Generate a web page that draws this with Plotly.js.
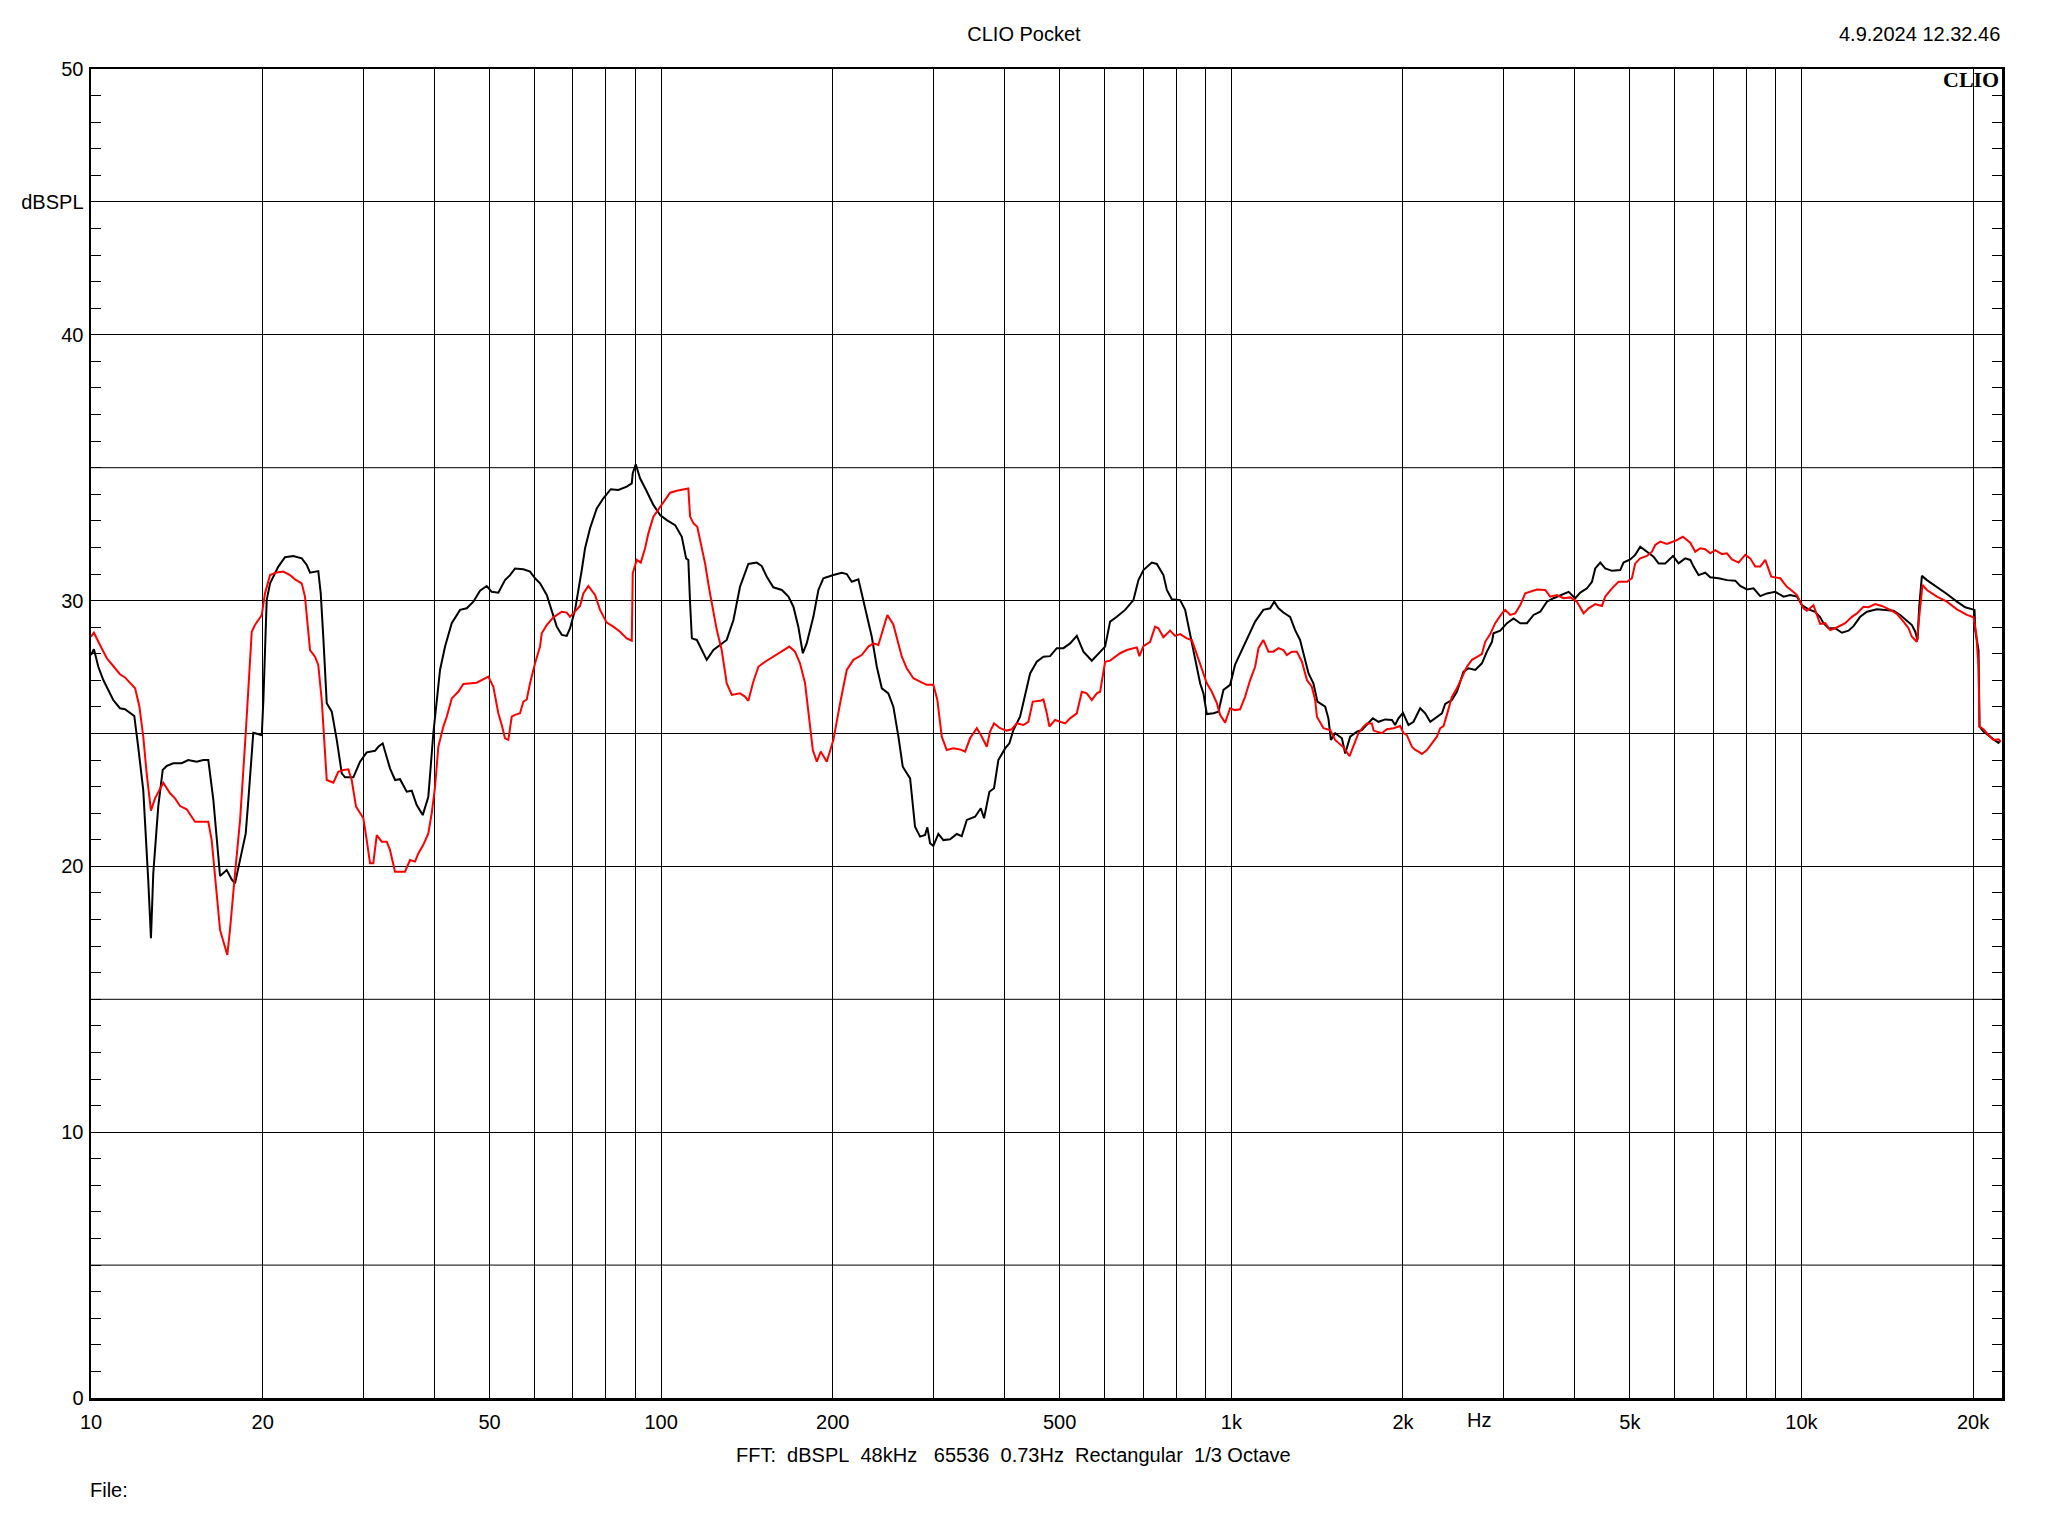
<!DOCTYPE html>
<html>
<head>
<meta charset="utf-8">
<script src="https://cdn.plot.ly/plotly-3.0.1.min.js"></script>
<style>
html, body { margin: 0; padding: 0; background: #ffffff; }
#chart { width: 2048px; height: 1536px; }
</style>
</head>
<body>
<div id="chart"></div>
<script>
// ---- Data ----
const blackFreq = [10.0,10.12,10.30,10.51,10.94,11.24,11.47,11.91,12.10,12.35,12.60,12.74,12.86,13.12,13.36,13.58,13.94,14.42,14.81,15.32,15.74,16.06,16.39,16.61,16.84,17.30,17.65,17.89,18.26,18.68,18.88,19.26,19.93,20.06,20.33,20.61,21.31,21.89,22.64,23.42,23.90,24.22,25.04,25.29,25.55,25.91,26.44,26.98,27.53,27.90,28.85,29.64,30.45,31.49,31.91,32.48,33.45,34.14,34.83,
35.79,36.52,37.26,38.18,39.05,39.85,40.94,41.78,42.92,44.39,45.60,46.84,48.12,49.44,50.45,51.81,53.23,54.32,55.43,57.32,58.89,60.09,61.32,63.00,64.29,65.60,66.94,68.30,69.22,70.63,72.57,73.54,75.04,77.10,79.18,81.58,84.13,87.03,88.81,89.16,90.25,91.83,94.09,96.90,99.56,102.3,105.8,108.7,110.6,111.6,112.4,113.2,115.5,117.8,120.2,123.5,126.9,130.3,133.9,137.5,142.2,147.1,150.1,153.2,157.3,162.8,167.2,170.6,174.0,177.2,180.0,184.9,188.7,192.5,200.5,207.4,211.6,215.9,221.8,
227.9,234.1,238.9,243.8,250.3,255.4,260.7,265.3,273.3,278.8,284.5,290.3,293.0,296.2,300.2,306.3,312.6,321.2,330.0,336.7,343.6,355.3,363.6,368.4,376.4,383.6,390.3,401.1,408.1,414.7,426.1,434.8,443.7,455.8,468.2,481.0,494.2,507.6,521.5,535.8,550.3,569.3,584.7,600.7,612.9,629.7,651.2,673.4,687.2,701.2,725.4,740.2,760.2,770.7,786.4,813.2,829.8,846.7,864.0,881.6,893.5,905.8,930.3,949.3,968.7,995.2,1015,1043,1072,1101,1138,1170,1189,1210,1234,1268,1294,1320,
1338,1366,1393,1416,1461,1480,1495,1521,1563,1584,1616,1661,1694,1729,1771,1812,1862,1913,1938,1964,2000,2045,2087,2144,2188,2233,2294,2341,2372,2437,2487,2554,2606,2678,2751,2807,2865,2883,2962,3044,3126,3212,3300,3389,3482,3577,3674,3775,3904,4011,4093,4205,4291,4348,4437,4527,4652,4810,4874,5008,5110,5215,5358,5502,5615,
5769,5951,6087,6254,6382,6467,6599,6780,6918,7154,7401,7653,7809,8023,8240,8466,8699,8995,9302,9557,9817,10017,10288,10570,10786,10930,11153,11459,11773,12091,12338,12676,13024,13561,14023,14501,14899,15308,15620,15830,15978,16088,16264,16596,17280,17992,18734,19373,20114,20171,20441,20524,20858,21283,21717,22160,22312];
const blackDb = [27.95,28.17,27.51,27.01,26.26,25.95,25.91,25.66,24.50,22.87,19.49,17.30,19.74,22.25,23.63,23.78,23.88,23.88,24.0,23.94,24.0,24.0,22.50,20.99,19.64,19.86,19.51,19.36,20.24,21.24,22.50,25.03,24.94,26.26,30.02,30.65,31.28,31.63,31.68,31.59,31.34,31.05,31.11,30.27,28.64,26.14,25.82,24.76,23.50,23.35,23.35,23.94,24.29,24.35,24.50,24.63,23.69,23.25,23.28,
22.81,22.85,22.31,21.93,22.62,25.01,27.39,28.27,29.15,29.65,29.71,29.96,30.37,30.55,30.33,30.30,30.77,30.96,31.21,31.18,31.09,30.84,30.65,30.21,29.65,29.02,28.71,28.67,28.96,29.65,31.15,31.97,32.72,33.47,33.85,34.19,34.16,34.29,34.41,34.79,35.13,34.60,34.16,33.60,33.22,33.03,32.84,32.40,31.59,31.53,29.90,28.58,28.52,28.14,27.77,28.14,28.33,28.52,29.27,30.52,31.38,31.43,31.30,30.90,30.50,30.40,30.15,29.77,29.02,28.02,28.39,29.39,30.40,30.84,30.96,31.05,31.00,30.71,30.80,
29.77,28.64,27.51,26.70,26.51,26.01,24.88,23.75,23.31,21.49,21.12,21.18,21.47,20.87,20.77,21.22,20.99,21.02,21.22,21.14,21.75,21.87,22.19,21.81,22.81,22.94,24.0,24.44,24.63,25.13,25.63,26.45,27.26,27.70,27.89,27.91,28.21,28.21,28.39,28.67,28.08,27.74,28.02,28.27,29.21,29.39,29.65,30.02,30.77,31.15,31.43,31.38,30.96,30.40,30.05,30.02,29.65,28.77,27.89,26.89,26.51,25.73,25.76,25.82,26.64,26.83,27.58,28.14,28.71,29.21,29.65,29.71,29.96,29.71,29.55,29.39,28.89,28.52,
28.02,27.26,26.89,26.20,26.01,25.57,24.76,25.01,24.82,24.25,24.88,25.07,25.13,25.32,25.57,25.44,25.53,25.51,25.32,25.57,25.78,25.32,25.44,25.95,25.76,25.44,25.63,25.76,26.11,26.26,26.57,27.33,27.45,27.39,27.64,28.08,28.45,28.77,28.87,29.15,29.33,29.15,29.15,29.46,29.58,29.96,30.09,30.21,30.33,30.09,30.30,30.46,30.71,31.21,31.43,31.21,31.12,31.15,31.43,31.55,31.72,32.03,31.84,31.65,31.40,
31.40,31.68,31.40,31.59,31.53,31.28,30.96,31.05,30.88,30.84,30.77,30.75,30.55,30.42,30.46,30.17,30.27,30.33,30.15,30.21,30.15,29.83,29.67,29.58,29.37,29.15,28.96,28.96,28.79,28.87,29.04,29.39,29.58,29.67,29.65,29.62,29.46,29.24,29.08,28.83,28.52,29.77,30.93,30.77,30.52,30.25,29.96,29.75,29.65,28.89,28.14,25.26,25.07,24.91,24.78,24.65,24.73];

const redFreq = [10.0,10.12,10.37,10.66,10.94,11.24,11.47,11.71,11.95,12.16,12.35,12.52,12.74,12.95,13.21,13.39,13.76,14.04,14.33,14.72,15.22,16.06,16.28,16.57,16.84,17.34,17.53,17.89,18.26,18.68,18.88,19.14,19.39,19.93,20.19,20.61,21.17,21.74,22.34,22.79,23.42,23.73,24.22,24.71,25.04,25.39,25.91,26.61,27.15,27.71,28.27,28.66,29.16,30.04,30.45,30.86,31.27,31.71,32.35,33.01,33.45,34.14,35.54,36.27,37.01,37.51,38.27,39.05,39.59,40.13,40.66,41.49,42.07,42.92,44.08,44.98,47.48,49.76,50.78,51.81,52.53,53.23,53.95,54.69,55.43,56.56,57.32,58.11,58.89,60.09,61.32,61.74,63.00,64.70,66.94,68.30,69.22,70.63,72.07,73.04,74.53,76.57,78.13,80.27,82.44,84.71,87.03,88.81,89.16,90.62,92.09,93.71,94.97,96.90,100.2,103.7,106.5,111.6,112.4,113.9,115.7,117.8,119.4,121.5,123.5,125.2,127.7,130.3,133.0,137.5,140.3,142.2,145.1,148.1,152.2,157.3,162.8,167.8,171.7,175.2,178.8,181.2,184.5,187.5,190.5,195.2,200.5,206.0,211.6,217.3,224.8,230.9,235.6,240.4,243.8,249.3,255.4,260.7,264.3,269.6,276.9,284.5,292.3,300.2,305.1,310.6,316.9,325.5,334.4,341.3,348.2,357.8,365.1,372.5,377.5,383.6,393.0,403.8,412.1,420.4,431.8,440.6,448.5,462.0,468.2,474.7,479.7,490.8,500.8,511.1,521.5,535.8,546.7,557.9,569.3,580.9,588.7,600.7,612.9,625.4,638.2,655.7,673.4,682.7,689.9,701.2,720.4,735.1,745.0,760.2,781.0,797.0,813.2,835.5,852.6,870.0,887.7,905.8,924.3,943.2,955.8,975.3,995.2,1015,1036,1057,1079,1101,1116,1138,1162,1185,1210,1234,1251,1277,1303,1330,1357,1384,1403,1413,1451,1491,1521,1573,1612,1638,1671,1705,1729,1764,1776,1837,1874,1925,1978,2005,2032,2074,2102,2130,2159,2203,2248,2294,2325,2356,2388,2437,2487,2538,2589,2642,2696,2751,2788,2845,2903,2983,3023,3084,3147,3212,3277,3344,3436,3553,3625,3725,3825,3930,4038,4148,4232,4348,4467,4527,4652,4777,4942,5042,5110,5215,5358,5467,5540,5653,5808,6006,6194,6382,6512,6645,6780,6918,7059,7253,7401,7552,7756,7969,8131,8297,8466,8639,8755,8851,9179,9430,9623,9817,9949,10082,10221,10358,10497,10642,10786,11005,11229,11459,11692,11930,12258,12508,12846,13108,13468,13837,14309,14701,15098,15406,15620,15939,16088,16304,16596,17280,17992,18734,19506,20033,20253,20441,20524,20858,21283,21717,22160,22375];
const redDb = [28.64,28.79,28.33,27.83,27.54,27.23,27.11,26.91,26.70,26.01,24.88,23.50,22.10,22.56,22.94,23.15,22.75,22.56,22.27,22.15,21.68,21.68,20.99,19.11,17.61,16.67,17.61,19.74,21.75,25.01,26.89,28.83,29.08,29.46,30.27,30.96,31.06,31.09,30.96,30.80,30.65,30.15,28.14,27.89,27.58,26.26,23.25,23.15,23.56,23.63,23.65,23.25,22.25,21.81,20.99,20.12,20.12,21.18,20.93,20.93,20.62,19.80,19.80,20.24,20.18,20.49,20.81,21.24,22.0,23.0,24.50,25.26,25.63,26.32,26.57,26.86,26.91,27.14,26.76,25.76,25.32,24.82,24.76,25.63,25.70,25.76,26.20,26.28,26.89,27.64,28.27,28.77,29.08,29.37,29.58,29.55,29.39,29.58,29.80,30.27,30.55,30.21,29.65,29.17,29.02,28.83,28.58,28.49,31.03,31.53,31.43,31.97,32.53,33.16,33.60,34.06,34.13,34.22,33.16,32.91,32.78,32.03,31.40,30.40,29.65,28.89,28.14,26.89,26.45,26.51,26.39,26.23,26.95,27.51,27.70,27.89,28.08,28.27,28.08,27.64,26.89,25.88,24.38,23.94,24.32,23.94,24.76,26.14,27.39,27.77,27.95,28.27,28.39,28.33,28.77,29.46,29.10,28.39,27.89,27.45,27.08,26.95,26.83,26.83,26.26,24.88,24.38,24.44,24.40,24.32,24.82,25.20,24.88,24.50,25.07,25.38,25.20,25.11,25.16,25.38,25.32,25.44,26.20,26.23,26.28,25.76,25.26,25.51,25.44,25.38,25.57,25.76,26.57,26.51,26.26,26.51,26.57,27.70,27.74,27.89,28.02,28.14,28.21,28.24,27.91,28.29,28.45,29.02,28.96,28.62,28.87,28.67,28.74,28.58,28.52,27.95,27.39,26.89,26.57,26.14,25.70,25.41,25.95,25.88,25.91,26.38,27.01,27.51,28.21,28.52,28.08,28.08,28.21,28.14,27.95,28.08,28.08,27.70,27.01,26.76,26.26,25.63,25.20,25.13,24.76,24.48,24.15,24.57,25.01,25.26,25.38,25.38,25.11,25.01,25.16,25.20,25.28,25.01,24.94,24.50,24.38,24.32,24.23,24.38,24.65,24.88,25.20,25.28,25.70,26.38,26.70,27.08,27.51,27.77,27.89,27.99,28.45,28.74,29.15,29.52,29.65,29.46,29.52,29.83,30.27,30.33,30.42,30.40,30.15,30.21,30.09,30.12,29.96,29.52,29.71,29.87,29.80,30.15,30.46,30.71,30.71,30.84,31.40,31.59,31.68,31.84,32.09,32.22,32.13,32.25,32.40,32.18,31.84,31.97,31.93,31.78,31.90,31.75,31.78,31.55,31.43,31.72,31.59,31.28,31.28,31.53,31.21,30.90,30.84,30.52,30.37,30.21,29.96,29.71,29.62,29.71,29.83,29.46,29.12,29.15,28.89,28.96,29.04,29.15,29.39,29.52,29.77,29.75,29.87,29.80,29.65,29.50,29.21,28.96,28.64,28.45,29.39,30.59,30.40,30.15,29.96,29.67,29.46,29.37,28.77,27.51,25.26,25.16,24.94,24.76,24.78,24.69];

// axis ticks & grid
const xTickVals = [10,20,50,100,200,500,1000,2000,5000,10000,20000];
const xTickText = ['10','20','50','100','200','500','1k','2k','5k','10k','20k'];
const xGridExtra = [30,40,60,70,80,90,300,400,600,700,800,900,3000,4000,6000,7000,8000,9000];
const xMin = 10, xMax = 22475;
const yTickVals = [0,10,20,30,40,45,50];
const yTickText = ['0','10','20','30','40','dBSPL','50'];
const yGridExtra = [5,15,25,35];

const traces = [
  {x: blackFreq, y: blackDb, type: 'scatter', mode: 'lines', line: {color: '#000000', width: 2}, hoverinfo: 'skip'},
  {x: redFreq, y: redDb, type: 'scatter', mode: 'lines', line: {color: '#ff0000', width: 2}, hoverinfo: 'skip'}
];

const shapes = yGridExtra.map(v => ({
  type: 'line', xref: 'paper', x0: 0, x1: 1, yref: 'y', y0: v, y1: v,
  line: {color: '#000000', width: 1}, layer: 'below'
}));

const FONT = 'Liberation Sans, Arial, sans-serif';
const FS = 20;

const layout = {
  width: 2048, height: 1536, autosize: false,
  paper_bgcolor: '#ffffff', plot_bgcolor: '#ffffff',
  margin: {l: 91, r: 46, t: 69, b: 138, pad: 0},
  showlegend: false,
  font: {family: FONT, size: FS, color: '#000000'},
  title: {text: 'CLIO Pocket', x: 0.5, xref: 'container', xanchor: 'center',
          y: 1 - 34/1536, yref: 'container', yanchor: 'middle', font: {family: FONT, size: FS, color: '#000000'}},
  xaxis: {
    type: 'log', range: [Math.log10(xMin), Math.log10(xMax)],
    tickmode: 'array', tickvals: xTickVals, ticktext: xTickText,
    showgrid: true, gridcolor: '#000000', gridwidth: 1,
    showline: true, linecolor: '#000000', linewidth: 2.5, mirror: true,
    ticks: '', zeroline: false, ticklabelstandoff: 4,
    tickfont: {family: FONT, size: FS, color: '#000000'},
    minor: {tickmode: 'array', tickvals: xGridExtra, showgrid: true, gridcolor: '#000000', gridwidth: 1, ticks: ''}
  },
  yaxis: {
    range: [0, 50], tickmode: 'array', tickvals: yTickVals, ticktext: yTickText,
    showgrid: true, gridcolor: '#000000', gridwidth: 1,
    showline: true, linecolor: '#000000', linewidth: 2.5, mirror: 'ticks',
    ticks: 'inside', ticklen: 10, tickcolor: '#000000', tickwidth: 1,
    zeroline: false, ticklabelstandoff: 1,
    tickfont: {family: FONT, size: FS, color: '#000000'},
    minor: {dtick: 1, ticks: 'inside', ticklen: 10, tickcolor: '#000000', tickwidth: 1, showgrid: false}
  },
  shapes: shapes,
  annotations: [
    {text: '4.9.2024 12.32.46', xref: 'paper', x: 1, xanchor: 'right', yref: 'paper', y: 1 + 35/1329, yanchor: 'middle',
     showarrow: false, font: {family: FONT, size: FS, color: '#000000'}},
    {text: '<b>CLIO</b>', xref: 'paper', x: (2001-91)/1911, xanchor: 'right', yref: 'paper', y: (1398-79)/1329, yanchor: 'middle',
     showarrow: false, font: {family: 'Liberation Serif, Times New Roman, serif', size: 22, color: '#000000'}},
    {text: 'Hz', xref: 'paper', x: (1479-91)/1911, xanchor: 'center', yref: 'paper', y: (1398-1420)/1329, yanchor: 'middle',
     showarrow: false, font: {family: FONT, size: FS, color: '#000000'}},
    {text: 'FFT:&nbsp; dBSPL&nbsp; 48kHz&nbsp;&nbsp; 65536&nbsp; 0.73Hz&nbsp; Rectangular&nbsp; 1/3 Octave', xref: 'paper', x: (1013-91)/1911, xanchor: 'center',
     yref: 'paper', y: (1398-1455)/1329, yanchor: 'middle', showarrow: false, font: {family: FONT, size: FS, color: '#000000'}},
    {text: 'File:', xref: 'paper', x: -3/1911, xanchor: 'left', yref: 'paper', y: (1398-1490)/1329, yanchor: 'middle',
     showarrow: false, font: {family: FONT, size: FS, color: '#000000'}}
  ]
};

Plotly.newPlot('chart', traces, layout, {staticPlot: true, displayModeBar: false});
</script>
</body>
</html>
